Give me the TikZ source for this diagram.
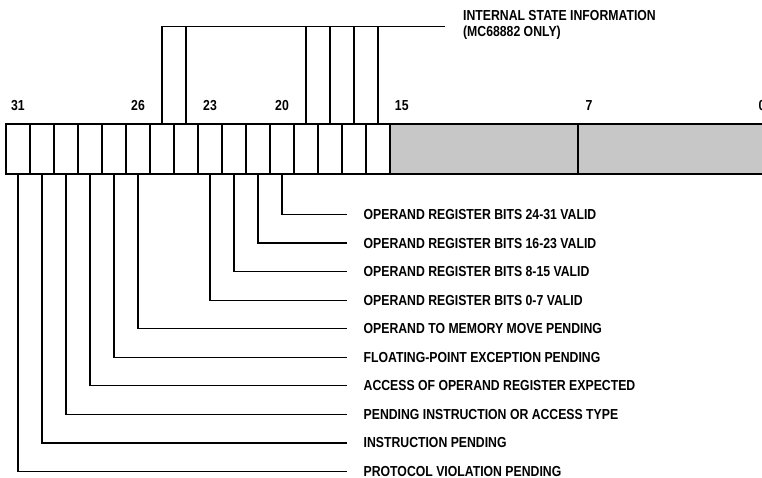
\documentclass[tikz,border=0pt]{standalone}
\usepackage{fontspec}
\setmainfont{Liberation Sans}[FakeStretch=0.845]
\begin{document}
\begin{tikzpicture}[x=1pt,y=-1pt,line width=1.3pt,
  every node/.style={font=\fontsize{14.5}{16}\selectfont\bfseries},
  cell/.style={draw, minimum width=24pt, minimum height=50pt, inner sep=0pt, outer sep=0pt, anchor=north west},
  gcell/.style={cell, fill=black!22},
  lbl/.style={anchor=west, inner sep=0pt, text height=10pt, text depth=0pt},
  num/.style={anchor=base, inner sep=0pt},
  info/.style={anchor=base west, inner sep=0pt}]
\useasboundingbox (0,0) rectangle (762,478);
% register cells
\foreach \i in {0,...,15} {
  \node[cell] (c\i) at ({6+24*\i},124) {};
}
\node[gcell, minimum width=188pt] (g1) at (390,124) {};
\node[gcell, minimum width=192pt] (g2) at (578,124) {};
% bit numbers
\node[num] (n31) at (c0.center |- 0,110.5) {31};
\node[num] (n26) at (c5.center |- 0,110.5) {26};
\node[num] (n23) at (c8.center |- 0,110.5) {23};
\node[num] (n20) at (c11.center |- 0,110.5) {20};
\node[num] (n15) at (401.75,110.5) {15};
\node[num] (n7) at (589,110.5) {7};
\node[num] (n0) at (762,110.5) {0};
% internal state bracket
\coordinate (tl) at (445,26.7);
\draw (c6.north) |- (tl);
\foreach \i in {7,12,13,14,15} {
  \draw (c\i.north) -- (c\i.north |- tl);
}
\node[info] (i1) at (462.5,20.8) {INTERNAL STATE INFORMATION};
\node[info] (i2) at (462.5,36.8) {(MC68882 ONLY)};
% field labels
\foreach \r/\t in {
  0/{OPERAND REGISTER BITS 24-31 VALID},
  1/{OPERAND REGISTER BITS 16-23 VALID},
  2/{OPERAND REGISTER BITS 8-15 VALID},
  3/{OPERAND REGISTER BITS 0-7 VALID},
  4/{OPERAND TO MEMORY MOVE PENDING},
  5/{FLOATING-POINT EXCEPTION PENDING},
  6/{ACCESS OF OPERAND REGISTER EXPECTED},
  7/{PENDING INSTRUCTION OR ACCESS TYPE},
  8/{INSTRUCTION PENDING},
  9/{PROTOCOL VIOLATION PENDING}} {
  \node[lbl] (t\r) at (363,{214.5+28.55*\r}) {\t};
}
\foreach \c/\r in {11/0,10/1,9/2,8/3,5/4,4/5,3/6,2/7,1/8,0/9} {
  \draw (c\c.south) |- ([xshift=-16pt]t\r.west);
}
\end{tikzpicture}
\end{document}
